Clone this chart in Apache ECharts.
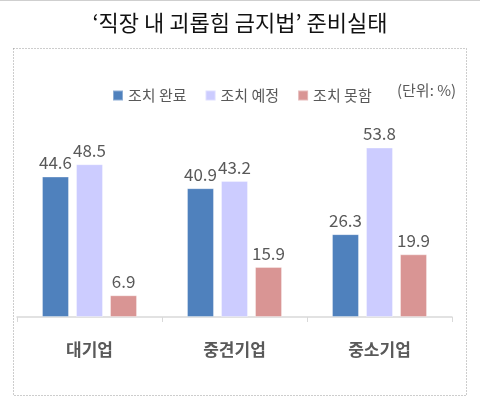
<!DOCTYPE html>
<html>
<head>
<meta charset="utf-8">
<script src="https://cdn.jsdelivr.net/npm/echarts@6/dist/echarts.min.js"></script>
<style>
  html, body { margin: 0; padding: 0; background: #fff; }
  #chart { width: 480px; height: 407px; }
</style>
</head>
<body>
<div id="chart"></div>
<script>
// data
var categories = ['대기업', '중견기업', '중소기업'];
var seriesNames = ['조치 완료', '조치 예정', '조치 못함'];
var done = [44.6, 40.9, 26.3];
var planned = [48.5, 43.2, 53.8];
var notDone = [6.9, 15.9, 19.9];
var colors = ['#4F81BD', '#CCCCFF', '#D99594'];

var font = '"Noto Sans CJK KR", "Noto Sans", sans-serif';
var chart = echarts.init(document.getElementById('chart'));

function barSeries(name, data, color){
  return {
    name: name,
    type: 'bar',
    data: data,
    barWidth: 27,
    barGap: '26%',
    itemStyle: { color: color, borderColor: 'rgba(255,255,255,0.35)', borderWidth: 1 },
    label: {
      show: true,
      position: 'top',
      distance: 5,
      color: '#595959',
      fontSize: 17,
      fontFamily: font
    }
  };
}

chart.setOption({
  animation: false,
  title: {
    text: '‘직장 내 괴롭힘 금지법’ 준비실태',
    left: 'center',
    top: 7,
    textStyle: { fontSize: 22, fontWeight: 'normal', color: '#111', fontFamily: font }
  },
  legend: {
    left: 107,
    top: 83,
    itemWidth: 10,
    itemHeight: 10,
    itemGap: 18,
    icon: 'rect',
    textStyle: { fontSize: 15, color: '#595959', fontFamily: font },
    data: seriesNames
  },
  graphic: [
    {
      type: 'rect',
      shape: { x: 0, y: 0.5, width: 480, height: 0 },
      style: { stroke: '#cfcfcf', lineWidth: 1 }
    },
    {
      type: 'rect',
      shape: { x: 13.5, y: 48.5, width: 453, height: 347 },
      style: { fill: 'none', stroke: '#9a9a9a', lineWidth: 1, lineDash: [1, 2] }
    },
    {
      type: 'text',
      left: 397,
      top: 83,
      style: { text: '(단위: %)', fontSize: 15, fill: '#595959', fontFamily: font }
    }
  ],
  grid: { left: 17, right: 28, top: 128, bottom: 90 },
  xAxis: {
    type: 'category',
    data: categories,
    axisLine: { lineStyle: { color: '#d9d9d9', width: 1.5 } },
    axisTick: { show: true, length: 5, lineStyle: { color: '#d9d9d9' } },
    axisLabel: {
      margin: 24,
      fontSize: 17,
      fontWeight: 'bold',
      color: '#595959',
      fontFamily: font
    }
  },
  yAxis: {
    type: 'value',
    min: 0,
    max: 60,
    show: false,
    splitLine: { show: false }
  },
  series: [
    barSeries(seriesNames[0], done, colors[0]),
    barSeries(seriesNames[1], planned, colors[1]),
    barSeries(seriesNames[2], notDone, colors[2])
  ]
});
</script>
</body>
</html>
